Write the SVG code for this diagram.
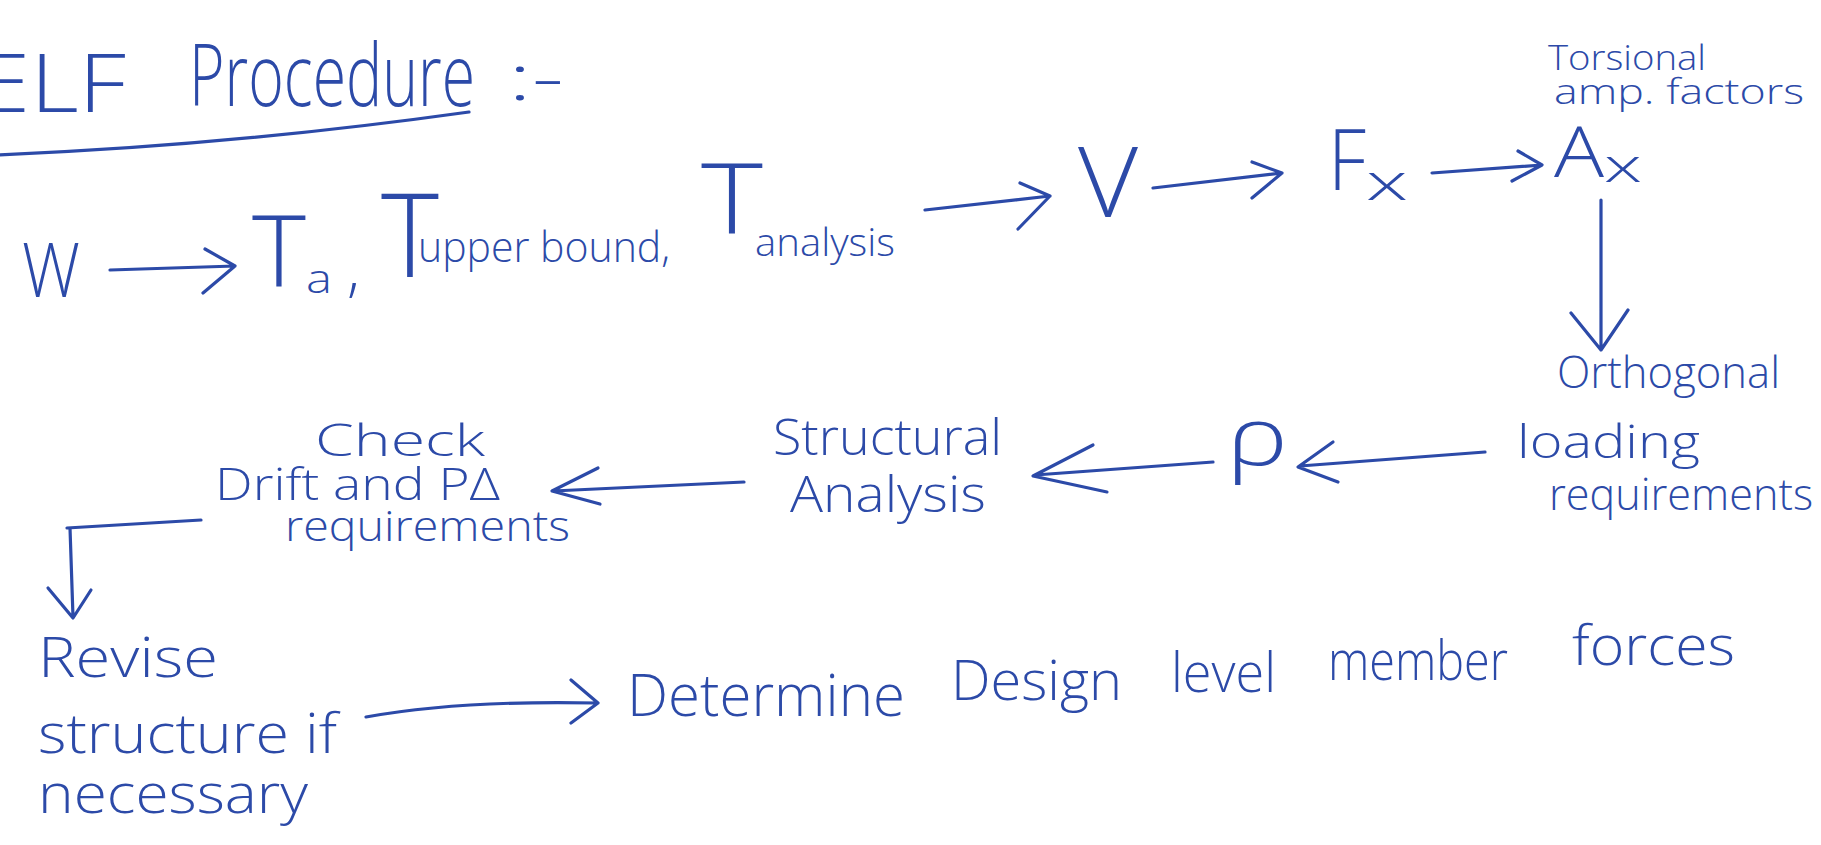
<svg xmlns="http://www.w3.org/2000/svg" width="1821" height="845" viewBox="0 0 1821 845">
  <style>
    text { font-family: "Open Sans", "Liberation Sans", sans-serif; font-weight: 300; fill: #2c4aa8; }
    .ln { fill: none; stroke: #2c4aa8; stroke-width: 3.2; stroke-linecap: round; stroke-linejoin: round; }
  </style>
  <rect width="1821" height="845" fill="#ffffff"/>

  <!-- heading -->
  <g id="title">
    <text x="-22" y="112" font-size="82" textLength="148" lengthAdjust="spacingAndGlyphs">ELF</text>
    <text x="189" y="106" font-size="86" textLength="286" lengthAdjust="spacingAndGlyphs">Procedure</text>
    <text x="508" y="100" font-size="62" textLength="56" lengthAdjust="spacingAndGlyphs">:-</text>
    <path class="ln" d="M-5 155 Q226 146 469 112"/>
  </g>

  <!-- first row -->
  <g id="node-W">
    <text x="22" y="297" font-size="75" textLength="58" lengthAdjust="spacingAndGlyphs">W</text>
  </g>
  <g id="node-T">
    <text x="252" y="287" font-size="100" textLength="54" lengthAdjust="spacingAndGlyphs">T</text>
    <text x="306" y="293" font-size="40" textLength="26" lengthAdjust="spacingAndGlyphs">a</text>
    <text x="347" y="290" font-size="60">,</text>
    <text x="381" y="277" font-size="116" textLength="58" lengthAdjust="spacingAndGlyphs">T</text>
    <text x="418" y="262" font-size="42" textLength="252" lengthAdjust="spacingAndGlyphs">upper bound,</text>
    <text x="701" y="233" font-size="98" textLength="62" lengthAdjust="spacingAndGlyphs">T</text>
    <text x="755" y="256" font-size="38" textLength="140" lengthAdjust="spacingAndGlyphs">analysis</text>
  </g>
  <g id="node-V">
    <text x="1078" y="217" font-size="98" textLength="60" lengthAdjust="spacingAndGlyphs">V</text>
  </g>
  <g id="node-Fx">
    <text x="1328" y="190" font-size="84" textLength="38" lengthAdjust="spacingAndGlyphs">F</text>
    <text x="1366" y="200" font-size="50" textLength="42" lengthAdjust="spacingAndGlyphs">x</text>
  </g>
  <g id="node-Ax">
    <text x="1554" y="177" font-size="70" textLength="50" lengthAdjust="spacingAndGlyphs">A</text>
    <text x="1604" y="182" font-size="46" textLength="38" lengthAdjust="spacingAndGlyphs">x</text>
    <text x="1548" y="70" font-size="34" textLength="158" lengthAdjust="spacingAndGlyphs">Torsional</text>
    <text x="1554" y="104" font-size="34" textLength="250" lengthAdjust="spacingAndGlyphs">amp. factors</text>
  </g>

  <!-- second row -->
  <g id="node-orthogonal">
    <text x="1557" y="388" font-size="44" textLength="223" lengthAdjust="spacingAndGlyphs">Orthogonal</text>
    <text x="1517" y="458" font-size="46" textLength="183" lengthAdjust="spacingAndGlyphs">loading</text>
    <text x="1549" y="510" font-size="44" textLength="264" lengthAdjust="spacingAndGlyphs">requirements</text>
  </g>
  <g id="node-rho">
    <text x="1226" y="465" font-size="82" textLength="62" lengthAdjust="spacingAndGlyphs">ρ</text>
  </g>
  <g id="node-structural">
    <text x="773" y="455" font-size="50" textLength="229" lengthAdjust="spacingAndGlyphs">Structural</text>
    <text x="790" y="512" font-size="50" textLength="196" lengthAdjust="spacingAndGlyphs">Analysis</text>
  </g>
  <g id="node-drift">
    <text x="315" y="456" font-size="44" textLength="170" lengthAdjust="spacingAndGlyphs">Check</text>
    <text x="215" y="500" font-size="44" textLength="285" lengthAdjust="spacingAndGlyphs">Drift and PΔ</text>
    <text x="285" y="541" font-size="42" textLength="285" lengthAdjust="spacingAndGlyphs">requirements</text>
  </g>

  <!-- third row -->
  <g id="node-revise">
    <text x="38" y="677" font-size="56" textLength="180" lengthAdjust="spacingAndGlyphs">Revise</text>
    <text x="38" y="753" font-size="56" textLength="299" lengthAdjust="spacingAndGlyphs">structure if</text>
    <text x="38" y="813" font-size="56" textLength="270" lengthAdjust="spacingAndGlyphs">necessary</text>
  </g>
  <g id="node-determine">
    <text x="627" y="716" font-size="58" textLength="278" lengthAdjust="spacingAndGlyphs">Determine</text>
    <text x="951" y="700" font-size="56" textLength="171" lengthAdjust="spacingAndGlyphs">Design</text>
    <text x="1171" y="692" font-size="56" textLength="105" lengthAdjust="spacingAndGlyphs">level</text>
    <text x="1328" y="680" font-size="56" textLength="180" lengthAdjust="spacingAndGlyphs">member</text>
    <text x="1572" y="665" font-size="56" textLength="163" lengthAdjust="spacingAndGlyphs">forces</text>
  </g>

  <!-- connectors: hand-drawn shafts with open heads -->
  <g id="connectors">
    <!-- W to periods -->
    <path class="ln" d="M110 270 L235 266 M205 249 L235 266 L203 293"/>
    <!-- periods to V -->
    <path class="ln" d="M925 210 L1050 196 M1020 183 L1050 196 L1018 229"/>
    <!-- V to Fx -->
    <path class="ln" d="M1153 188 L1282 173 M1252 162 L1282 173 L1252 198"/>
    <!-- Fx to Ax -->
    <path class="ln" d="M1432 173 L1542 165 M1518 151 L1542 165 L1512 181"/>
    <!-- Ax down to orthogonal loading -->
    <path class="ln" d="M1601 200 L1601 350 M1571 313 L1601 350 L1628 310"/>
    <!-- loading to rho -->
    <path class="ln" d="M1485 452 L1300 466 M1333 442 L1298 467 L1338 482"/>
    <!-- rho to structural analysis -->
    <path class="ln" d="M1213 462 L1035 475 M1093 445 L1033 476 L1107 492"/>
    <!-- structural analysis to drift check -->
    <path class="ln" d="M744 482 L553 491 M598 468 L552 491 L600 504"/>
    <!-- drift check down to revise -->
    <path class="ln" d="M201 520 L67 528 M70 528 L73 617 M48 588 L73 618 L91 590"/>
    <!-- revise to determine -->
    <path class="ln" d="M366 717 Q460 700 598 703 M571 680 L598 703 L571 723"/>
  </g>
</svg>
